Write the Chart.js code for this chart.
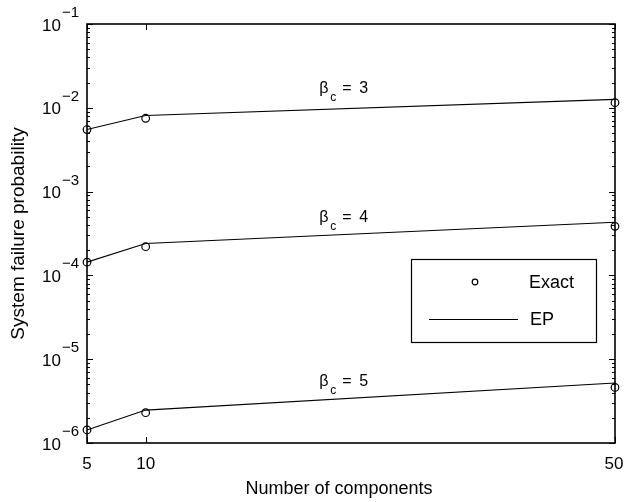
<!DOCTYPE html>
<html>
<head>
<meta charset="utf-8">
<script src="https://cdn.jsdelivr.net/npm/chart.js@4.4.0/dist/chart.umd.min.js"></script>
<style>
  html, body { margin: 0; padding: 0; background: #fff; }
  #wrap { width: 624px; height: 502px; }
</style>
</head>
<body>
<div id="wrap"><canvas id="failChart" width="624" height="502"></canvas></div>
<script>
// number of components (x) and failure probabilities
const components = [5, 10, 50];
const exact3 = [5.5e-3, 7.5e-3, 1.15e-2];
const ep3 = [5.5e-3, 8.1e-3, 1.26e-2];
const exact4 = [1.44e-4, 2.2e-4, 3.85e-4];
const ep4 = [1.44e-4, 2.4e-4, 4.3e-4];
const exact5 = [1.43e-6, 2.3e-6, 4.6e-6];
const ep5 = [1.43e-6, 2.47e-6, 5.2e-6];

const xTicks = [5, 10, 50];
const yExponents = [-6, -5, -4, -3, -2, -1];
const betaValues = ['3', '4', '5'];
const legendLabels = ['Exact', 'EP'];

const FONT = "'Liberation Sans', Arial, Helvetica, sans-serif";

function pts(ys) {
    return components.map(function(c, i) { return { x: c, y: ys[i] }; });
}

function exactSet(ys) {
    return {
        label: 'Exact', data: pts(ys), showLine: false,
        pointRadius: 3.8, pointStyle: 'circle',
        pointBackgroundColor: 'rgba(0,0,0,0)', pointBorderColor: '#000',
        pointBorderWidth: 1.2, clip: false
    };
}

function epSet(ys) {
    return {
        label: 'EP', data: pts(ys), showLine: true,
        borderColor: '#000', borderWidth: 1.1, tension: 0,
        pointRadius: 0, clip: false
    };
}

// where the beta labels sit, in data coordinates
const betaAnchors = [
    { x: 24.8, y: 1.5e-2 },
    { x: 24.8, y: 4.3e-4 },
    { x: 24.8, y: 4.8e-6 }
];

const axesPlugin = {
    id: 'matlabAxes',
    afterDraw: function(chart) {
        const ctx = chart.ctx;
        const a = chart.chartArea;
        const xs = chart.scales.x;
        const ys = chart.scales.y;
        ctx.save();
        ctx.strokeStyle = '#000';
        ctx.fillStyle = '#000';

        // ticks (inward)
        ctx.lineWidth = 1;
        ctx.beginPath();
        yExponents.forEach(function(k) {
            const py = Math.round(ys.getPixelForValue(Math.pow(10, k))) + 0.5;
            ctx.moveTo(a.left, py); ctx.lineTo(a.left + 6, py);
            ctx.moveTo(a.right, py); ctx.lineTo(a.right - 6, py);
            if (k < -1) {
                for (let m = 2; m <= 9; m++) {
                    const q = Math.round(ys.getPixelForValue(m * Math.pow(10, k))) + 0.5;
                    ctx.moveTo(a.left, q); ctx.lineTo(a.left + 3, q);
                    ctx.moveTo(a.right, q); ctx.lineTo(a.right - 3, q);
                }
            }
        });
        xTicks.forEach(function(v) {
            const px = Math.round(xs.getPixelForValue(v)) + 0.5;
            ctx.moveTo(px, a.bottom); ctx.lineTo(px, a.bottom - 6);
            ctx.moveTo(px, a.top); ctx.lineTo(px, a.top + 6);
        });
        ctx.stroke();

        // box
        ctx.lineWidth = 1.6;
        ctx.strokeRect(a.left, a.top, a.right - a.left, a.bottom - a.top);

        // y tick labels 10^k
        yExponents.forEach(function(k) {
            const py = ys.getPixelForValue(Math.pow(10, k));
            ctx.font = '17px ' + FONT;
            ctx.textAlign = 'right';
            ctx.textBaseline = 'middle';
            ctx.fillText('10', 61, py + 2);
            ctx.font = '15px ' + FONT;
            ctx.textAlign = 'left';
            ctx.textBaseline = 'alphabetic';
            ctx.fillText('\u2212' + Math.abs(k), 62, py - 7);
        });

        // x tick labels
        ctx.font = '17px ' + FONT;
        ctx.textAlign = 'center';
        ctx.textBaseline = 'middle';
        xTicks.forEach(function(v) {
            let px = xs.getPixelForValue(v);
            if (v === 50) px -= 1;
            ctx.fillText(String(v), px, 464);
        });

        // axis titles
        ctx.font = '18px ' + FONT;
        ctx.textBaseline = 'alphabetic';
        ctx.fillText('Number of components', 339, 494);
        ctx.save();
        ctx.translate(24, (a.top + a.bottom) / 2);
        ctx.rotate(-Math.PI / 2);
        ctx.font = '19px ' + FONT;
        ctx.fillText('System failure probability', 0, 0);
        ctx.restore();

        // beta_c labels
        ctx.textAlign = 'left';
        betaAnchors.forEach(function(p, i) {
            const bx = xs.getPixelForValue(p.x);
            const by = ys.getPixelForValue(p.y);
            ctx.font = '16px ' + FONT;
            ctx.fillText('\u03b2', bx, by);
            ctx.fillText('=', bx + 23, by);
            ctx.fillText(betaValues[i], bx + 40, by);
            ctx.font = '12px ' + FONT;
            ctx.fillText('c', bx + 11, by + 8);
        });

        // legend
        ctx.fillStyle = '#fff';
        ctx.fillRect(411, 259, 185, 83);
        ctx.fillStyle = '#000';
        ctx.lineWidth = 1.2;
        ctx.strokeRect(411.5, 259.5, 185, 83);
        ctx.beginPath();
        ctx.arc(475, 282, 2.8, 0, Math.PI * 2);
        ctx.stroke();
        ctx.lineWidth = 1.1;
        ctx.beginPath();
        ctx.moveTo(429, 319.5); ctx.lineTo(518, 319.5);
        ctx.stroke();
        ctx.font = '18px ' + FONT;
        ctx.textAlign = 'left';
        ctx.textBaseline = 'middle';
        ctx.fillText(legendLabels[0], 529, 283);
        ctx.fillText(legendLabels[1], 530, 320);

        ctx.restore();
    }
};

const ctx = document.getElementById('failChart').getContext('2d');
const failChart = new Chart(ctx, {
    type: 'scatter',
    data: {
        datasets: [
            epSet(ep3), exactSet(exact3),
            epSet(ep4), exactSet(exact4),
            epSet(ep5), exactSet(exact5)
        ]
    },
    options: {
        responsive: false,
        animation: false,
        events: [],
        layout: {
            padding: { left: 87, right: 9, top: 24, bottom: 59 }
        },
        plugins: {
            legend: { display: false },
            tooltip: { enabled: false }
        },
        scales: {
            x: { type: 'linear', min: 5, max: 50, display: false },
            y: { type: 'logarithmic', min: 1e-6, max: 1e-1, display: false }
        }
    },
    plugins: [axesPlugin]
});
</script>
</body>
</html>
